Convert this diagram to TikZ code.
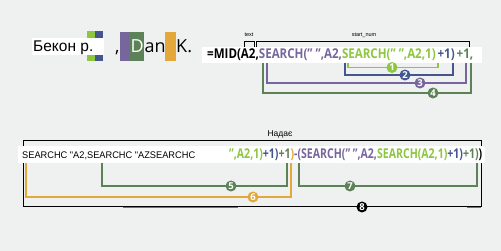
\documentclass[tikz,border=0pt]{standalone}
\usepackage{fontspec}
\setmainfont{Open Sans}
\newfontfamily\arialf{Liberation Sans}
\definecolor{lime}{HTML}{8DC63F}
\definecolor{navy}{HTML}{44558F}
\definecolor{purp}{HTML}{76669B}
\definecolor{dgreen}{HTML}{5E8258}
\definecolor{orng}{HTML}{E3A839}
\definecolor{bg}{HTML}{EFF0F0}
\tikzset{
  badge/.style={circle, fill=#1, inner sep=0pt, minimum size=11pt, text=white, font=\fontsize{9.5}{9.5}\selectfont\bfseries},
  conn/.style={line width=1.1pt, #1},
  wbox/.style={fill=white, draw=none},
  tiny/.style={font=\arialf\fontsize{5.5}{6}\selectfont, inner sep=0pt},
}
\begin{document}
\begin{tikzpicture}[x=1pt,y=-1pt]
\useasboundingbox (0,0) rectangle (501,251);
\fill[bg] (0,0) rectangle (501,251);

% top-left name blocks
\fill[lime] (87,31) rectangle (95,61);
\fill[navy] (95,31) rectangle (103,61);
\fill[wbox] (32,38) rectangle (104,55);
\node[anchor=base west, inner sep=0pt, font=\arialf\fontsize{15.5}{16}\selectfont] (bekon) at (33,52) {Бекон р.};
\node[anchor=base west, inner sep=0pt, font=\fontsize{18}{18}\selectfont] (comma) at (115,53) {,};
\fill[purp] (120,32) rectangle (129,61);
\fill[dgreen] (129,32) rectangle (144,61);
\fill[orng] (165,32) rectangle (176,61);
\node[anchor=base west, inner sep=0pt, font=\fontsize{18}{18}\selectfont, text=white] (dd) at (130.5,53) {D};
\node[anchor=base west, inner sep=0pt, font=\fontsize{18}{18}\selectfont] (an) at (144.5,53) {an};
\node[anchor=base west, inner sep=0pt, font=\fontsize{18}{18}\selectfont] (kk) at (176,53) {K.};

% top formula
\fill[wbox] (202,47) rectangle (482,63);
\node[anchor=base west, inner sep=0pt, font=\fontsize{13.5}{14}\selectfont\bfseries] (f1) at (207,59)
 {\resizebox{266pt}{\height}{=MID(A2,\textcolor{purp}{SEARCH(" ",A2,}\textcolor{lime}{SEARCH(" ",A2,1)}\,\textcolor{navy}{+1)}\,\textcolor{dgreen}{+1,}}};

% top brackets
\coordinate (ta) at (244,47); \coordinate (tb) at (254,47);
\coordinate (sa) at (256,47); \coordinate (sb) at (469,47);
\draw[line width=0.8pt] (ta) -- ++(0,-6) -| (tb);
\draw[line width=0.8pt] (sa) -- ++(0,-6) -| (sb);
\node[tiny] (ltext) at (249,35) {text};
\node[tiny] (lstart) at (364,35) {start\_num};

% top connectors
\coordinate (a1) at (348,63); \coordinate (b1) at (438,63);
\coordinate (a2) at (345,63); \coordinate (b2) at (453,63);
\coordinate (a3) at (267,63); \coordinate (b3) at (466,63);
\coordinate (a4) at (263,63); \coordinate (b4) at (471,63);
\draw[conn=dgreen] (a4) |- (b4|-0,93) -- (b4);
\draw[conn=purp] (a3) |- (b3|-0,83) -- (b3);
\draw[conn=navy] (a2) |- (b2|-0,75) -- (b2);
\draw[conn=lime] (a1) |- (b1|-0,67.5) -- (b1);
\node[badge=lime] (n1) at (392,67.5) {1};
\node[badge=navy] (n2) at (405,75) {2};
\node[badge=purp] (n3) at (420,83) {3};
\node[badge=dgreen] (n4) at (433,93) {4};

% bottom bracket
\draw[line width=1pt] (23,141) rectangle (481,207);
\draw[line width=1.6pt, black!55] (123,207.5) -- (238,207.5);
\draw[line width=1.6pt, black!55] (467,207.5) -- (481,207.5);
\node[anchor=base, inner sep=0pt, font=\arialf\fontsize{8.5}{9}\selectfont] (nadae) at (280,137) {Надає};

% bottom formula
\fill[wbox] (18,146) rectangle (485,163);
\node[anchor=base west, inner sep=0pt, font=\arialf\fontsize{9.6}{10}\selectfont] (g1) at (22,159) {\resizebox{173pt}{\height}{SEARCHC "A2,SEARCHC "AZSEARCHC}};
\node[anchor=base west, inner sep=0pt, font=\fontsize{13.5}{14}\selectfont\bfseries] (g2) at (229,159)
 {\resizebox{253pt}{\height}{\textcolor{lime}{",A2,1)}\textcolor{navy}{+1)}\textcolor{dgreen}{+1}\textcolor{orng}{)}\textcolor{purp}{-(SEARCH(" ",A2,}\textcolor{lime}{SEARCH(A2,1)}\textcolor{navy}{+1)}\textcolor{dgreen}{+1)}\textcolor{black}{)}}};

% bottom connectors
\coordinate (a5) at (102,163); \coordinate (b5) at (287,163);
\coordinate (a6) at (26,163); \coordinate (b6) at (291,163);
\coordinate (a7) at (299,163); \coordinate (b7) at (477,163);
\draw[conn=orng] (a6) |- (b6|-0,197) -- (b6);
\draw[conn=dgreen] (a5) |- (b5|-0,186) -- (b5);
\draw[conn=dgreen] (a7) |- (b7|-0,186) -- (b7);
\node[badge=dgreen] (n5) at (231,186) {5};
\node[badge=orng] (n6) at (253,197) {6};
\node[badge=dgreen] (n7) at (350,186) {7};
\node[badge=black] (n8) at (362,207) {8};
\end{tikzpicture}
\end{document}
